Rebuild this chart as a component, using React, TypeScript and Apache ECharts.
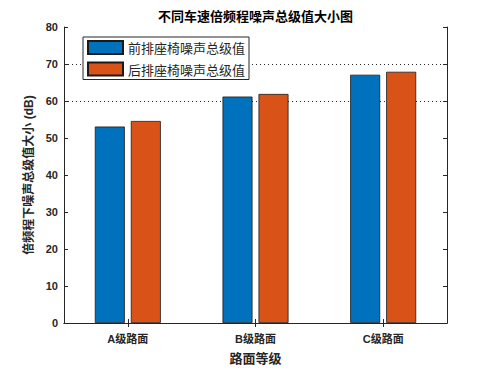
import React, { useEffect, useRef } from "react";
import * as echarts from "echarts";

const categories = ["A级路面", "B级路面", "C级路面"];
const frontSeat = [53.1, 61.2, 67.1];
const rearSeat = [54.6, 61.9, 67.9];
const seriesNames = ["前排座椅噪声总级值", "后排座椅噪声总级值"];
const titleText = "不同车速倍频程噪声总级值大小图";
const yName = "倍频程下噪声总级值大小 (dB)";
const xName = "路面等级";

const FONT = "'Liberation Sans', 'Noto Sans CJK SC', sans-serif";
const INK = "#262626";

export default function App() {
  const ref = useRef<HTMLDivElement>(null);
  useEffect(() => {
    if (!ref.current) return;
    const chart = echarts.init(ref.current, undefined, { renderer: "svg" });
    const gridColors = ["none", "none", "none", "none", "none", "none", INK, INK, "none"];
    chart.setOption({
      animation: false,
      backgroundColor: "#ffffff",
      textStyle: { fontFamily: FONT },
      title: {
        text: titleText,
        left: 158,
        top: 10,
        padding: 0,
        textStyle: { fontSize: 13, fontWeight: "bold", color: "#000", fontFamily: FONT },
      },
      legend: {
        orient: "vertical",
        left: 83,
        top: 37,
        padding: [3, 4, 3, 4],
        itemWidth: 35,
        itemHeight: 13,
        itemGap: 6.5,
        backgroundColor: "#ffffff",
        borderColor: INK,
        borderWidth: 1,
        borderRadius: 0,
        icon: "rect",
        textStyle: { fontSize: 13, lineHeight: 14, color: INK, fontFamily: "'Noto Sans CJK SC', sans-serif" },
        data: seriesNames,
      },
      grid: { left: 64, top: 27, width: 383, height: 303, containLabel: false },
      xAxis: [
        {
          type: "category",
          data: categories,
          position: "bottom",
          axisLine: { show: true, lineStyle: { color: INK, width: 1 } },
          axisTick: { show: true, inside: true, alignWithLabel: true, length: 4, lineStyle: { color: INK } },
          axisLabel: { fontSize: 11, fontWeight: "bold", color: INK, margin: 10 },
          name: xName,
          nameLocation: "middle",
          nameGap: 29,
          nameTextStyle: { fontSize: 13, fontWeight: "bold", color: INK },
        },
        {
          type: "category",
          data: categories,
          position: "top",
          axisLine: { show: true, lineStyle: { color: INK, width: 1 } },
          axisTick: { show: true, inside: true, alignWithLabel: true, length: 4, lineStyle: { color: INK } },
          axisLabel: { show: false },
        },
      ],
      yAxis: [
        {
          type: "value",
          min: 0,
          max: 80,
          interval: 10,
          position: "left",
          axisLine: { show: true, lineStyle: { color: INK, width: 1 } },
          axisTick: { show: true, inside: true, length: 4, lineStyle: { color: INK } },
          axisLabel: { fontSize: 11, fontWeight: "bold", color: INK, margin: 6 },
          splitLine: {
            show: true,
            showMinLine: true,
            showMaxLine: true,
            lineStyle: { color: gridColors, type: [1, 3], width: 1 },
          },
          name: yName,
          nameLocation: "middle",
          nameRotate: 90,
          nameGap: 21,
          nameTextStyle: { fontSize: 12, fontWeight: "bold", color: INK },
        },
        {
          type: "value",
          min: 0,
          max: 80,
          interval: 10,
          position: "right",
          axisLine: { show: true, lineStyle: { color: INK, width: 1 } },
          axisTick: { show: true, inside: true, length: 4, lineStyle: { color: INK } },
          axisLabel: { show: false },
          splitLine: { show: false },
        },
      ],
      series: [
        {
          name: seriesNames[0],
          type: "bar",
          data: frontSeat,
          barWidth: 30,
          barGap: "20%",
          itemStyle: { color: "#0072BD", borderColor: "#1a1a1a", borderWidth: 0.8 },
        },
        {
          name: seriesNames[1],
          type: "bar",
          data: rearSeat,
          barWidth: 30,
          barGap: "20%",
          itemStyle: { color: "#D95319", borderColor: "#1a1a1a", borderWidth: 0.8 },
        },
      ],
    });
    return () => chart.dispose();
  }, []);
  return (
    <div
      ref={ref}
      style={{ position: "fixed", left: 0, top: 0, width: 493, height: 370 }}
    />
  );
}
